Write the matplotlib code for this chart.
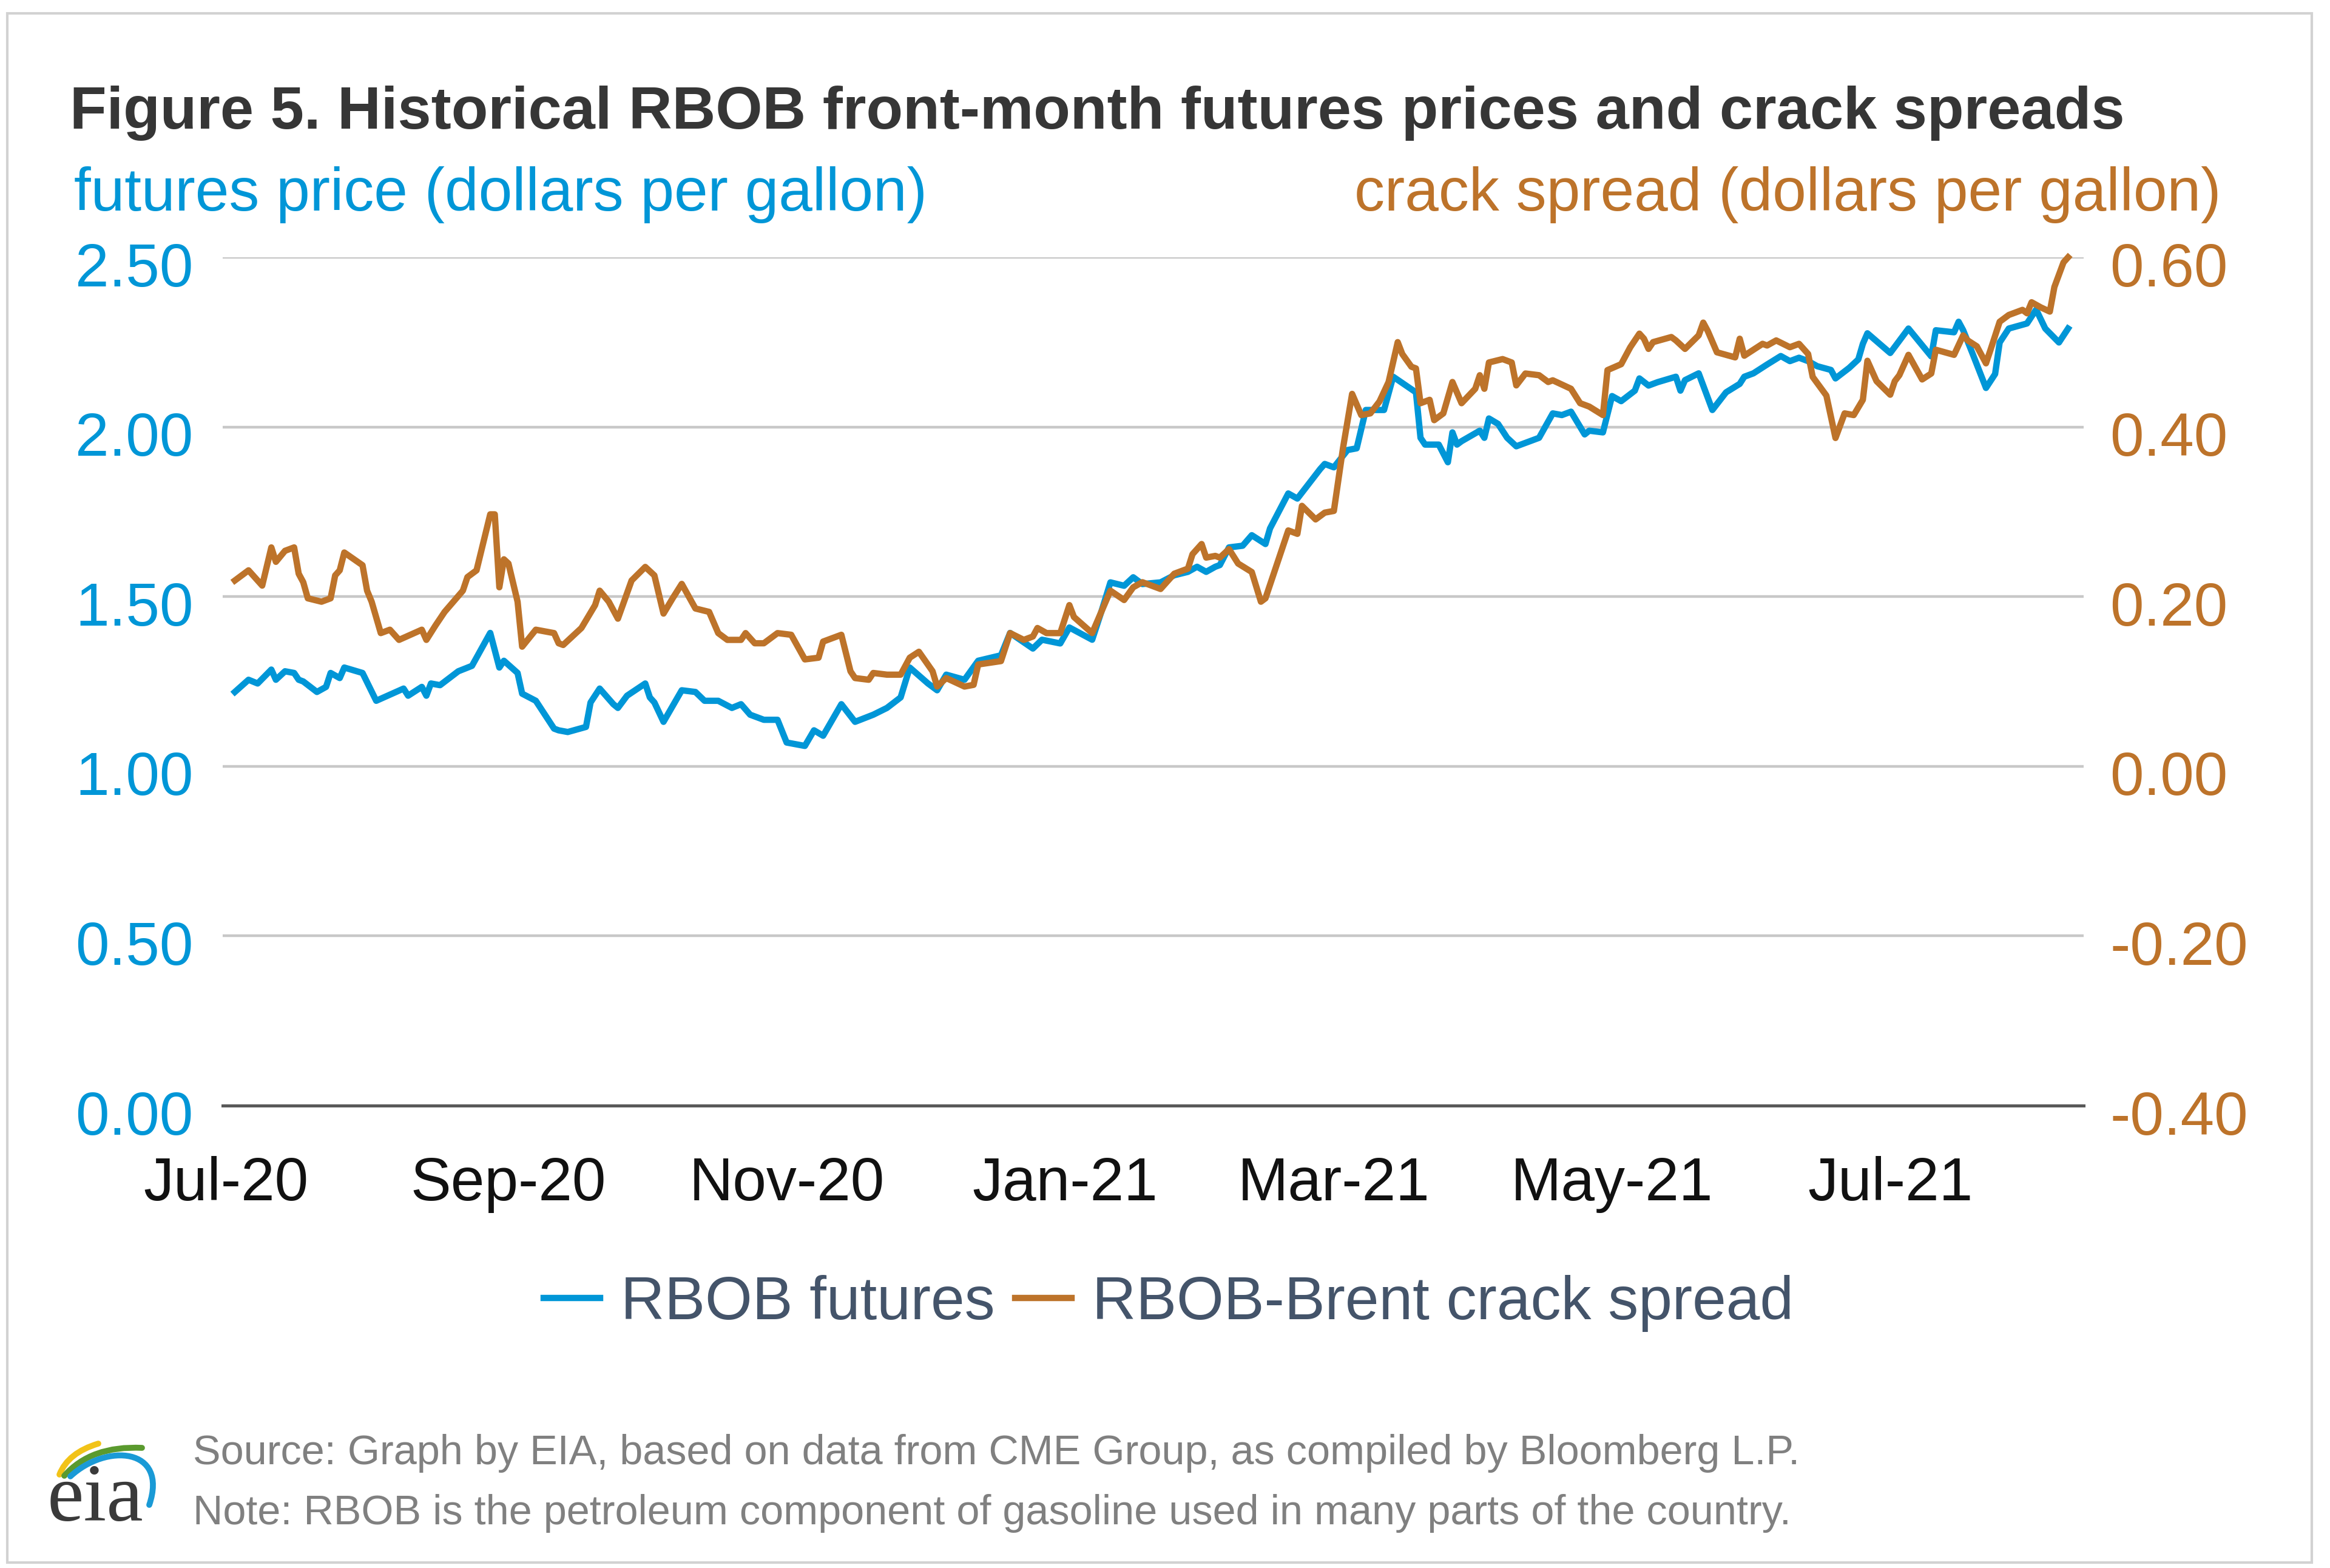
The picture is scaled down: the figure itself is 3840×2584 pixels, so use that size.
import matplotlib
matplotlib.use('Agg')
import matplotlib.pyplot as plt
import matplotlib.dates as mdates
import matplotlib.transforms as mtransforms
from matplotlib.lines import Line2D
from matplotlib.patches import Rectangle, PathPatch
from matplotlib.path import Path
from matplotlib.ticker import FormatStrFormatter
import pandas as pd

plt.rcParams['font.family'] = ['Liberation Sans', 'DejaVu Sans']

BLUE = '#0096D7'
BROWN = '#BD732A'

title = 'Figure 5. Historical RBOB front-month futures prices and crack spreads'
left_label = 'futures price (dollars per gallon)'
right_label = 'crack spread (dollars per gallon)'
series_names = ['RBOB futures', 'RBOB-Brent crack spread']
source_text = 'Source: Graph by EIA, based on data from CME Group, as compiled by Bloomberg L.P.'
note_text = 'Note: RBOB is the petroleum component of gasoline used in many parts of the country.'

left_ticks = [0.0, 0.5, 1.0, 1.5, 2.0, 2.5]
right_ticks = [-0.4, -0.2, 0.0, 0.2, 0.4, 0.6]
x_tick_dates = ['2020-07-01', '2020-09-01', '2020-11-01', '2021-01-01',
                '2021-03-01', '2021-05-01', '2021-07-01']
x_range = ['2020-06-30 08:00', '2021-08-12 10:00']

futures_dates = [
    '2020-07-03', '2020-07-06', '2020-07-08', '2020-07-11', '2020-07-12', '2020-07-14',
    '2020-07-16', '2020-07-17', '2020-07-18', '2020-07-21', '2020-07-23', '2020-07-24',
    '2020-07-26', '2020-07-27', '2020-07-31', '2020-08-03', '2020-08-09', '2020-08-10',
    '2020-08-13', '2020-08-14', '2020-08-15', '2020-08-17', '2020-08-21', '2020-08-24',
    '2020-08-28', '2020-08-30', '2020-08-31', '2020-09-03', '2020-09-04', '2020-09-07',
    '2020-09-11', '2020-09-12', '2020-09-14', '2020-09-18', '2020-09-19', '2020-09-21',
    '2020-09-24', '2020-09-25', '2020-09-27', '2020-10-01', '2020-10-02', '2020-10-03',
    '2020-10-05', '2020-10-09', '2020-10-12', '2020-10-14', '2020-10-17', '2020-10-20',
    '2020-10-22', '2020-10-24', '2020-10-27', '2020-10-30', '2020-11-01', '2020-11-05',
    '2020-11-07', '2020-11-09', '2020-11-13', '2020-11-16', '2020-11-20', '2020-11-23',
    '2020-11-26', '2020-11-28', '2020-12-02', '2020-12-04', '2020-12-06', '2020-12-10',
    '2020-12-13', '2020-12-18', '2020-12-20', '2020-12-25', '2020-12-27', '2020-12-31',
    '2021-01-02', '2021-01-07', '2021-01-09', '2021-01-11', '2021-01-14', '2021-01-16',
    '2021-01-18', '2021-01-22', '2021-01-25', '2021-01-28', '2021-01-30', '2021-02-01',
    '2021-02-03', '2021-02-04', '2021-02-06', '2021-02-09', '2021-02-11', '2021-02-14',
    '2021-02-15', '2021-02-19', '2021-02-21', '2021-02-26', '2021-02-27', '2021-03-01',
    '2021-03-04', '2021-03-06', '2021-03-08', '2021-03-12', '2021-03-14', '2021-03-19',
    '2021-03-20', '2021-03-21', '2021-03-24', '2021-03-26', '2021-03-27', '2021-03-28',
    '2021-03-29', '2021-04-02', '2021-04-03', '2021-04-04', '2021-04-06', '2021-04-08',
    '2021-04-10', '2021-04-15', '2021-04-18', '2021-04-20', '2021-04-22', '2021-04-25',
    '2021-04-26', '2021-04-29', '2021-05-01', '2021-05-03', '2021-05-06', '2021-05-07',
    '2021-05-09', '2021-05-11', '2021-05-15', '2021-05-16', '2021-05-17', '2021-05-20',
    '2021-05-23', '2021-05-26', '2021-05-29', '2021-05-30', '2021-06-01', '2021-06-04',
    '2021-06-07', '2021-06-09', '2021-06-11', '2021-06-13', '2021-06-15', '2021-06-18',
    '2021-06-19', '2021-06-22', '2021-06-24', '2021-06-25', '2021-06-26', '2021-07-01',
    '2021-07-05', '2021-07-10', '2021-07-11', '2021-07-15', '2021-07-16', '2021-07-17',
    '2021-07-19', '2021-07-22', '2021-07-24', '2021-07-25', '2021-07-27', '2021-07-31',
    '2021-08-02', '2021-08-04', '2021-08-07', '2021-08-09']
futures_price = [
    1.219, 1.255, 1.244, 1.285, 1.255, 1.280,
    1.275, 1.255, 1.250, 1.219, 1.234, 1.275,
    1.260, 1.291, 1.275, 1.193, 1.229, 1.208,
    1.234, 1.208, 1.244, 1.239, 1.280, 1.296,
    1.393, 1.291, 1.311, 1.275, 1.214, 1.193,
    1.111, 1.106, 1.101, 1.116, 1.188, 1.229,
    1.183, 1.172, 1.208, 1.244, 1.203, 1.188,
    1.131, 1.224, 1.219, 1.193, 1.193, 1.172,
    1.183, 1.152, 1.137, 1.137, 1.070, 1.060,
    1.106, 1.090, 1.183, 1.131, 1.152, 1.172,
    1.203, 1.291, 1.244, 1.224, 1.270, 1.255,
    1.311, 1.327, 1.393, 1.347, 1.373, 1.362,
    1.409, 1.373, 1.455, 1.542, 1.532, 1.557,
    1.537, 1.542, 1.563, 1.573, 1.588, 1.573,
    1.588, 1.593, 1.645, 1.650, 1.681, 1.655,
    1.701, 1.804, 1.789, 1.876, 1.891, 1.881,
    1.932, 1.937, 2.050, 2.050, 2.148, 2.102,
    1.968, 1.948, 1.948, 1.896, 1.984, 1.948,
    1.958, 1.989, 1.968, 2.025, 2.009, 1.968,
    1.943, 1.968, 2.040, 2.035, 2.045, 1.978,
    1.989, 1.984, 2.091, 2.076, 2.107, 2.143,
    2.122, 2.132, 2.148, 2.107, 2.138, 2.158,
    2.050, 2.102, 2.127, 2.148, 2.158, 2.184,
    2.209, 2.194, 2.204, 2.194, 2.179, 2.168,
    2.143, 2.174, 2.199, 2.245, 2.276, 2.218,
    2.290, 2.208, 2.285, 2.279, 2.310, 2.285,
    2.218, 2.115, 2.156, 2.249, 2.290, 2.305,
    2.346, 2.290, 2.249, 2.290]

crack_dates = [
    '2020-07-03', '2020-07-06', '2020-07-09', '2020-07-11', '2020-07-12', '2020-07-14',
    '2020-07-16', '2020-07-17', '2020-07-18', '2020-07-19', '2020-07-22', '2020-07-24',
    '2020-07-25', '2020-07-26', '2020-07-27', '2020-07-31', '2020-08-01', '2020-08-02',
    '2020-08-04', '2020-08-06', '2020-08-08', '2020-08-13', '2020-08-14', '2020-08-16',
    '2020-08-18', '2020-08-22', '2020-08-23', '2020-08-25', '2020-08-28', '2020-08-29',
    '2020-08-30', '2020-08-31', '2020-09-01', '2020-09-03', '2020-09-04', '2020-09-07',
    '2020-09-11', '2020-09-12', '2020-09-13', '2020-09-17', '2020-09-20', '2020-09-21',
    '2020-09-23', '2020-09-25', '2020-09-28', '2020-10-01', '2020-10-03', '2020-10-05',
    '2020-10-07', '2020-10-09', '2020-10-12', '2020-10-15', '2020-10-17', '2020-10-19',
    '2020-10-22', '2020-10-23', '2020-10-25', '2020-10-27', '2020-10-30', '2020-11-02',
    '2020-11-05', '2020-11-08', '2020-11-09', '2020-11-13', '2020-11-15', '2020-11-16',
    '2020-11-19', '2020-11-20', '2020-11-23', '2020-11-26', '2020-11-28', '2020-11-30',
    '2020-12-03', '2020-12-04', '2020-12-06', '2020-12-10', '2020-12-12', '2020-12-13',
    '2020-12-18', '2020-12-20', '2020-12-23', '2020-12-25', '2020-12-26', '2020-12-28',
    '2020-12-31', '2021-01-02', '2021-01-03', '2021-01-07', '2021-01-09', '2021-01-11',
    '2021-01-14', '2021-01-16', '2021-01-18', '2021-01-22', '2021-01-25', '2021-01-28',
    '2021-01-29', '2021-01-31', '2021-02-01', '2021-02-03', '2021-02-04', '2021-02-06',
    '2021-02-08', '2021-02-11', '2021-02-13', '2021-02-14', '2021-02-19', '2021-02-21',
    '2021-02-22', '2021-02-25', '2021-02-27', '2021-03-01', '2021-03-03', '2021-03-05',
    '2021-03-07', '2021-03-09', '2021-03-11', '2021-03-13', '2021-03-15', '2021-03-16',
    '2021-03-18', '2021-03-19', '2021-03-20', '2021-03-22', '2021-03-23', '2021-03-25',
    '2021-03-27', '2021-03-29', '2021-04-01', '2021-04-02', '2021-04-03', '2021-04-04',
    '2021-04-07', '2021-04-09', '2021-04-10', '2021-04-12', '2021-04-15', '2021-04-17',
    '2021-04-18', '2021-04-22', '2021-04-24', '2021-04-26', '2021-04-29', '2021-04-30',
    '2021-05-03', '2021-05-05', '2021-05-07', '2021-05-08', '2021-05-09', '2021-05-10',
    '2021-05-14', '2021-05-15', '2021-05-17', '2021-05-20', '2021-05-21', '2021-05-22',
    '2021-05-24', '2021-05-28', '2021-05-29', '2021-05-30', '2021-06-03', '2021-06-04',
    '2021-06-06', '2021-06-09', '2021-06-11', '2021-06-13', '2021-06-14', '2021-06-17',
    '2021-06-19', '2021-06-21', '2021-06-23', '2021-06-25', '2021-06-26', '2021-06-28',
    '2021-07-01', '2021-07-02', '2021-07-03', '2021-07-05', '2021-07-08', '2021-07-10',
    '2021-07-11', '2021-07-15', '2021-07-17', '2021-07-18', '2021-07-20', '2021-07-22',
    '2021-07-23', '2021-07-25', '2021-07-27', '2021-07-30', '2021-07-31', '2021-08-01',
    '2021-08-03', '2021-08-05', '2021-08-06', '2021-08-08', '2021-08-09']
crack_spread = [
    0.219, 0.231, 0.213, 0.258, 0.241, 0.254,
    0.258, 0.227, 0.217, 0.198, 0.194, 0.198,
    0.225, 0.231, 0.252, 0.237, 0.207, 0.194,
    0.157, 0.161, 0.149, 0.161, 0.149, 0.166,
    0.182, 0.207, 0.223, 0.231, 0.297, 0.297,
    0.211, 0.244, 0.239, 0.194, 0.141, 0.161,
    0.157, 0.145, 0.143, 0.163, 0.190, 0.207,
    0.194, 0.174, 0.219, 0.235, 0.225, 0.180,
    0.198, 0.215, 0.186, 0.182, 0.157, 0.149,
    0.149, 0.157, 0.145, 0.145, 0.157, 0.155,
    0.126, 0.128, 0.147, 0.155, 0.112, 0.104,
    0.102, 0.110, 0.108, 0.108, 0.128, 0.135,
    0.112, 0.094, 0.104, 0.094, 0.096, 0.120,
    0.124, 0.157, 0.149, 0.153, 0.163, 0.157,
    0.157, 0.190, 0.176, 0.157, 0.182, 0.207,
    0.196, 0.211, 0.217, 0.209, 0.227, 0.233,
    0.250, 0.262, 0.246, 0.248, 0.246, 0.256,
    0.239, 0.229, 0.194, 0.198, 0.278, 0.274,
    0.307, 0.291, 0.299, 0.301, 0.375, 0.439,
    0.414, 0.416, 0.430, 0.453, 0.500, 0.486,
    0.471, 0.469, 0.428, 0.432, 0.408, 0.416,
    0.453, 0.428, 0.445, 0.461, 0.445, 0.476,
    0.480, 0.476, 0.449, 0.463, 0.461, 0.453,
    0.455, 0.445, 0.428, 0.424, 0.414, 0.467,
    0.474, 0.494, 0.510, 0.504, 0.492, 0.500,
    0.506, 0.502, 0.492, 0.508, 0.523, 0.513,
    0.488, 0.482, 0.504, 0.484, 0.498, 0.496,
    0.502, 0.494, 0.498, 0.486, 0.459, 0.437,
    0.387, 0.416, 0.414, 0.432, 0.478, 0.454,
    0.438, 0.454, 0.461, 0.485, 0.456, 0.463,
    0.491, 0.485, 0.508, 0.502, 0.495, 0.475,
    0.491, 0.524, 0.532, 0.538, 0.534, 0.547,
    0.541, 0.536, 0.565, 0.594, 0.600]

W, H = 3840, 2584
fig = plt.figure(figsize=(W / 100, H / 100), dpi=100)
fig.patch.set_facecolor('white')

# outer frame
fig.add_artist(Rectangle((12 / W, 1 - 2575 / H), (3810 - 12) / W, (2575 - 22) / H,
                         transform=fig.transFigure, fill=False, ec='#D2D2D2', lw=3))

ax_l, ax_r, ax_t, ax_b = 367, 3434, 424, 1822
ax = fig.add_axes([ax_l / W, 1 - ax_b / H, (ax_r - ax_l) / W, (ax_b - ax_t) / H])
ax2 = ax.twinx()

ax.set_ylim(0, 2.5)
ax2.set_ylim(-0.4, 0.6)
ax.set_yticks(left_ticks)
ax2.set_yticks(right_ticks)
ax.yaxis.set_major_formatter(FormatStrFormatter('%.2f'))
ax2.yaxis.set_major_formatter(FormatStrFormatter('%.2f'))

ax.set_xlim(pd.to_datetime(x_range))
ax.set_xticks(pd.to_datetime(x_tick_dates))
ax.xaxis.set_major_formatter(mdates.DateFormatter('%b-%y'))

for a in (ax, ax2):
    for s in a.spines.values():
        s.set_visible(False)
    a.set_facecolor('none')

ax.grid(axis='y', color='#C8C8C8', lw=3.2)
ax.grid(axis='x', visible=False)
ax.set_axisbelow(True)
ax.axhline(0, color='#595959', lw=3.6, zorder=2, clip_on=False)

ax.tick_params(axis='y', length=0, pad=35, labelsize=72, labelcolor=BLUE)
ax2.tick_params(axis='y', length=0, pad=31, labelsize=72, labelcolor=BROWN)
ax.tick_params(axis='x', length=0, pad=60, labelsize=72, labelcolor='#111111')

# nudge y tick labels slightly downward, as in the reference
shift = mtransforms.ScaledTranslation(0, -8 / 72, fig.dpi_scale_trans)
for lab in ax.get_yticklabels() + ax2.get_yticklabels():
    lab.set_transform(lab.get_transform() + shift)

ax.plot(pd.to_datetime(futures_dates), futures_price, color=BLUE, lw=7.5,
        solid_joinstyle='round', zorder=3)
ax2.plot(pd.to_datetime(crack_dates), crack_spread, color=BROWN, lw=7.5,
         solid_joinstyle='round', zorder=3, clip_on=False)

# titles
fig.text(115 / W, 1 - 212 / H, title, fontsize=71.5, fontweight='bold',
         color='#363636', va='baseline', ha='left')
fig.text(122 / W, 1 - 347 / H, left_label, fontsize=72, color=BLUE,
         va='baseline', ha='left')
fig.text(3661 / W, 1 - 347 / H, right_label, fontsize=72, color=BROWN,
         va='baseline', ha='right')

# legend
handles = [Line2D([], [], color=BLUE, lw=7.5), Line2D([], [], color=BROWN, lw=7.5)]
fig.legend(handles, series_names, loc='center', bbox_to_anchor=(1926 / W, 1 - 2148 / H),
           ncol=2, frameon=False, fontsize=72, handlelength=0.93, handletextpad=0.34,
           columnspacing=0.34, labelcolor='#44546A')

# footer
fig.text(318 / W, 1 - 2413 / H, source_text, fontsize=49.2, color='#808080',
         va='baseline', ha='left')
fig.text(318 / W, 1 - 2512 / H, note_text, fontsize=49.2, color='#808080',
         va='baseline', ha='left')

# eia logo
lx0, lx1, ly0, ly1 = 60, 300, 2360, 2525
lax = fig.add_axes([lx0 / W, 1 - ly1 / H, (lx1 - lx0) / W, (ly1 - ly0) / H])
lax.set_xlim(lx0, lx1)
lax.set_ylim(ly1, ly0)
lax.axis('off')
lax.text(78, 2506, 'eia', fontsize=98, family=['Liberation Serif', 'DejaVu Serif'],
         color='#3A3A3A', va='baseline', ha='left')
arcs = [
    ([(98, 2430), (112, 2394), (162, 2379)], '#F2C318', 7),
    ([(106, 2432), (150, 2382), (234, 2386)], '#5A9A2E', 7),
]
for pts, col, w in arcs:
    p = Path(pts, [Path.MOVETO, Path.CURVE3, Path.CURVE3])
    lax.add_patch(PathPatch(p, fill=False, ec=col, lw=w, capstyle='round', clip_on=False))
pb = Path([(116, 2433), (175, 2378), (278, 2385), (246, 2480)],
          [Path.MOVETO, Path.CURVE4, Path.CURVE4, Path.CURVE4])
lax.add_patch(PathPatch(pb, fill=False, ec='#1A9AD6', lw=7, capstyle='round', clip_on=False))

fig.savefig('out.png', dpi=100, facecolor='white')
